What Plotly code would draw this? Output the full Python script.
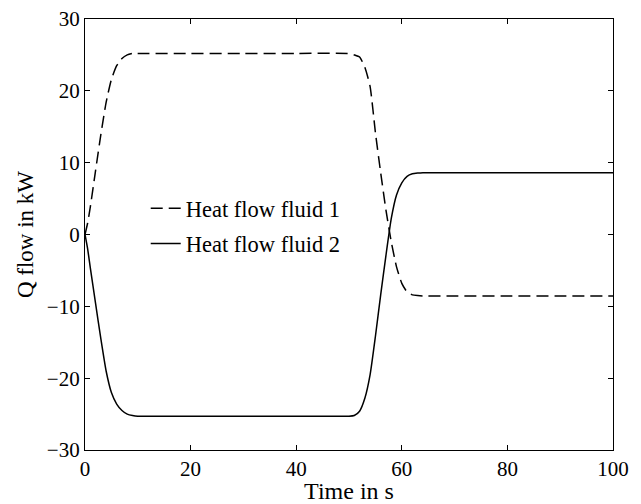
import plotly.graph_objects as go

time_s = [0, 0.5, 1, 2, 3, 4, 5, 6, 7, 8, 9, 10, 20, 30, 40, 50, 51, 52, 53, 54,
          55, 56, 57, 58, 59, 60, 61, 62, 63, 64, 70, 80, 90, 100]
heat_flow_fluid_1 = [0, 1.6, 3.8, 8.9, 13.9, 18.4, 21.6, 23.5, 24.5, 25.0, 25.2, 25.2,
                     25.2, 25.2, 25.2, 25.2, 25.0, 24.7, 23.3, 20.6,
                     14.2, 8.6, 3.4, -1.0, -4.5, -6.8, -8.0, -8.4, -8.5, -8.55,
                     -8.55, -8.55, -8.55, -8.55]
heat_flow_fluid_2 = [0, -2.0, -4.6, -9.6, -14.5, -19.0, -22.0, -23.6, -24.5, -25.0, -25.2, -25.3,
                     -25.3, -25.3, -25.3, -25.3, -25.2, -24.6, -22.8, -19.5,
                     -14.2, -8.4, -2.9, 2.2, 5.5, 7.2, 8.1, 8.45, 8.55, 8.6,
                     8.6, 8.6, 8.6, 8.6]
series_names = ["Heat flow fluid 1", "Heat flow fluid 2"]
x_ticks = [0, 20, 40, 60, 80, 100]
y_ticks = [-30, -20, -10, 0, 10, 20, 30]

FONT = "Liberation Serif"

fig = go.Figure()
fig.add_trace(go.Scatter(
    x=time_s, y=heat_flow_fluid_1, mode="lines", name=series_names[0],
    legendgroup="a",
    line=dict(color="black", width=1.5, dash="12px,6px", shape="spline", smoothing=0.5),
))
fig.add_trace(go.Scatter(
    x=time_s, y=heat_flow_fluid_2, mode="lines", name=series_names[1],
    legendgroup="b",
    line=dict(color="black", width=1.5, shape="spline", smoothing=0.5),
))

axis_common = dict(
    showline=True, linecolor="black", linewidth=1.2, mirror="ticks",
    ticks="inside", ticklen=5, tickcolor="black", tickwidth=1,
    showgrid=False, zeroline=False, automargin=False,
    ticklabeloverflow="allow",
    tickfont=dict(family=FONT, size=21, color="black"),
)

fig.update_layout(
    width=633, height=496,
    margin=dict(l=77, r=28, t=11, b=54, autoexpand=False),
    paper_bgcolor="white", plot_bgcolor="white",
    font=dict(family=FONT, size=21, color="black"),
    showlegend=True,
    legend=dict(
        x=0.115, y=0.61, xanchor="left", yanchor="top",
        bgcolor="rgba(0,0,0,0)", borderwidth=0,
        font=dict(family=FONT, size=22.5, color="black"),
        tracegroupgap=3,
    ),
    xaxis=dict(
        range=[0, 100], tickvals=x_ticks,
        title=dict(text="Time in s", font=dict(family=FONT, size=24), standoff=2),
        **axis_common,
    ),
    yaxis=dict(
        range=[-30, 30], tickvals=y_ticks,
        title=dict(text="Q flow in kW", font=dict(family=FONT, size=23), standoff=6),
        **axis_common,
    ),
)

fig.write_html("out.html")
